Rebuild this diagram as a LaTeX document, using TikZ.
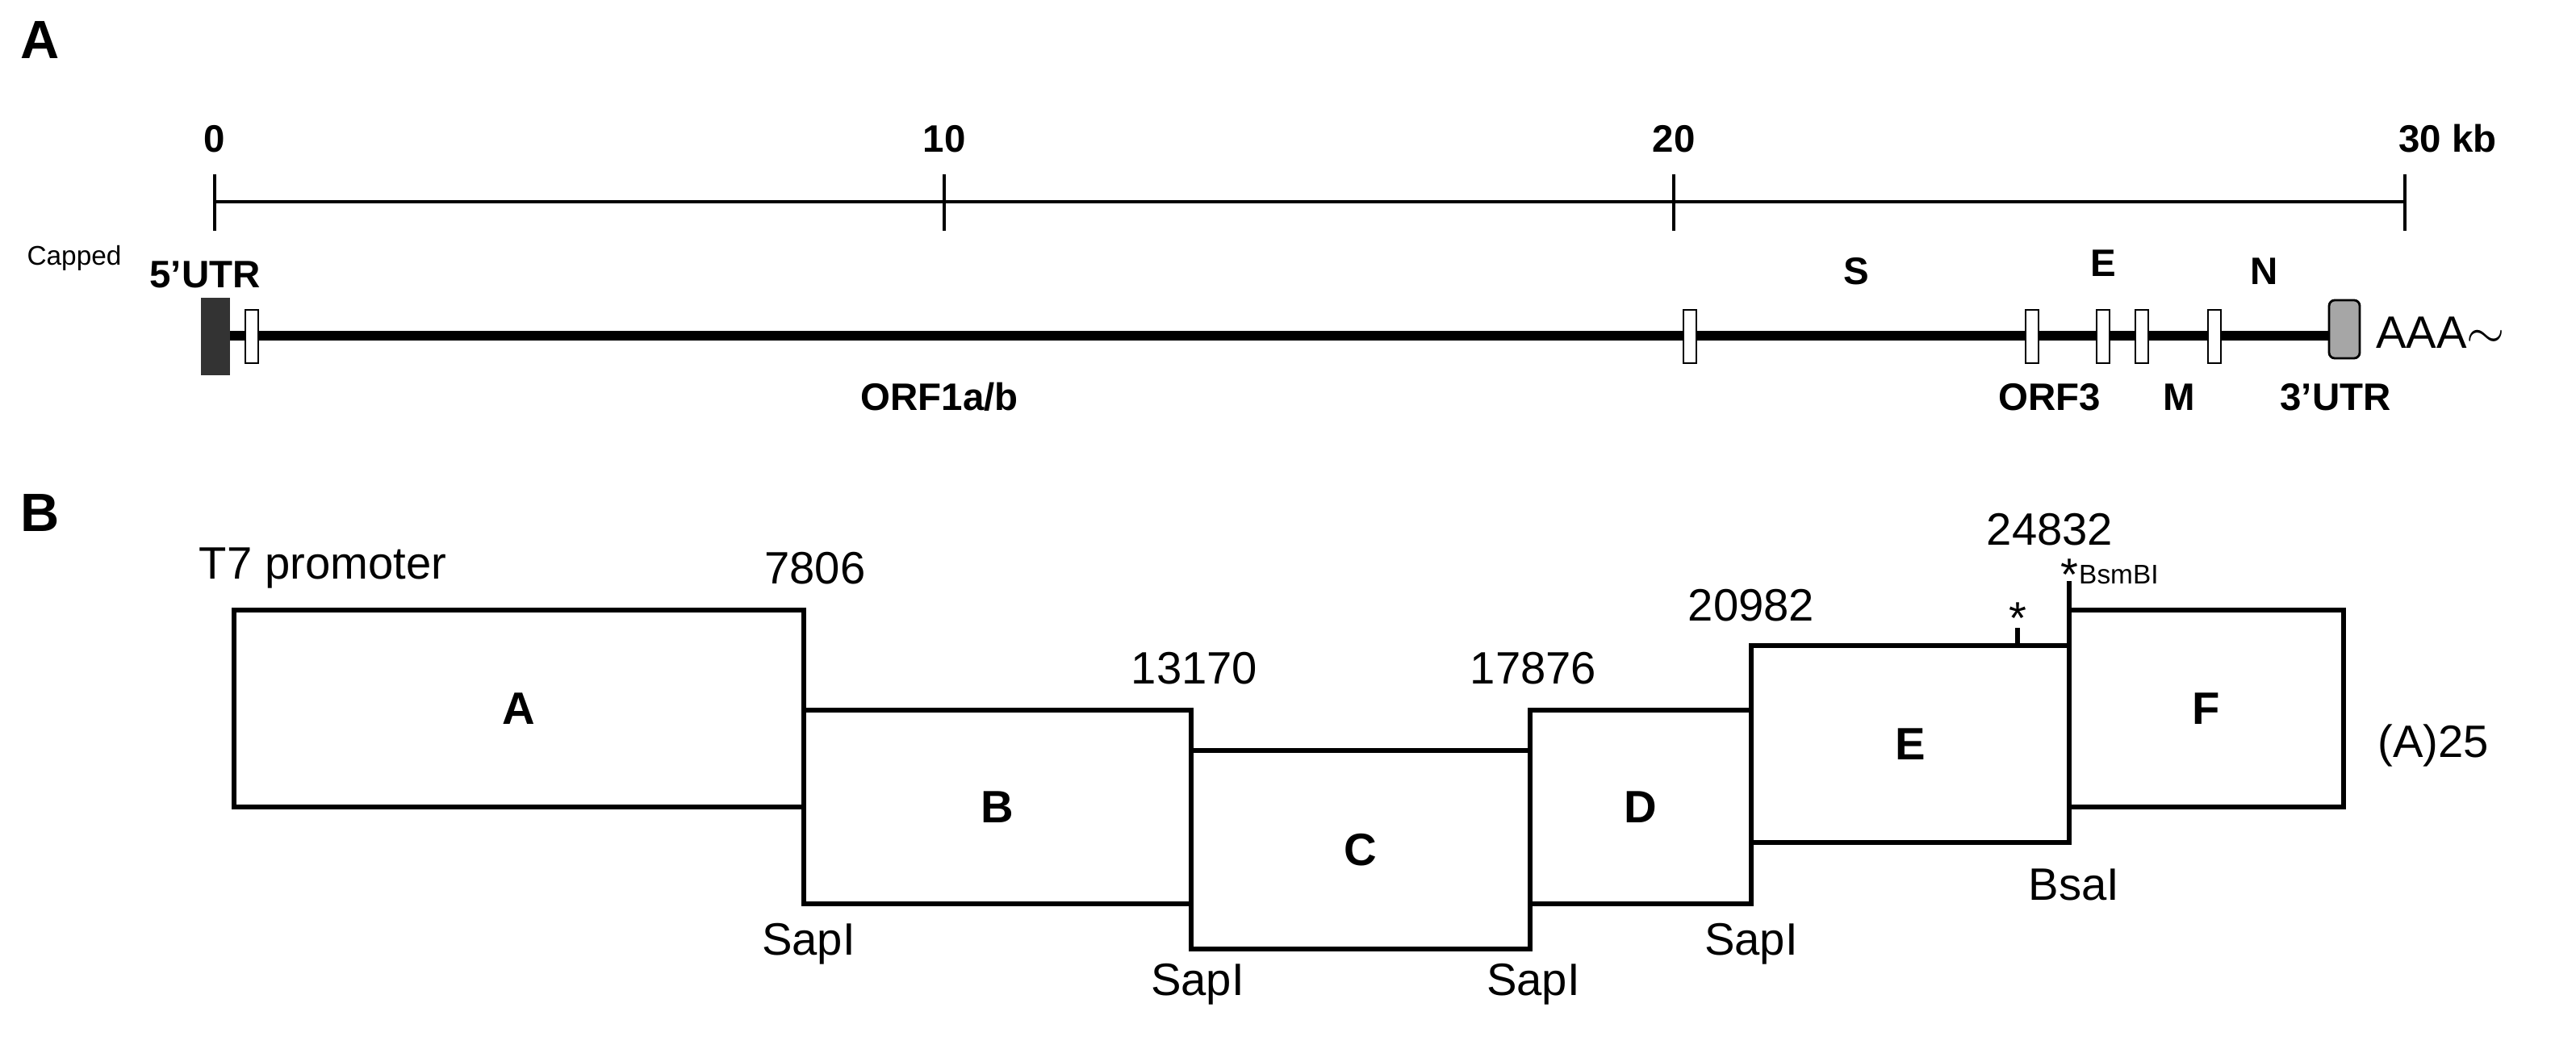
\documentclass[tikz,border=0pt]{standalone}
\usepackage{fontspec}
\setmainfont{Liberation Sans}
\usetikzlibrary{positioning,calc}
\tikzset{
  panel/.style={font=\fontsize{19}{19}\selectfont\bfseries},
  kb/.style={font=\fontsize{13.5}{14}\selectfont\bfseries},
  orf/.style={draw=black,fill=white,line width=0.8pt},
  frag/.style={draw=black,line width=1.7pt,fill=white},
  fragname/.style={font=\fontsize{16}{16}\selectfont\bfseries},
  numlab/.style={font=\fontsize{16}{16}\selectfont},
  tiny/.style={font=\fontsize{9.5}{10}\selectfont}
}
\begin{document}
\begin{tikzpicture}[x=0.02cm,y=-0.02cm]
  \useasboundingbox (0,0) rectangle (1596,645);
  % panel A
  \node[panel] (pA) at (25,25) {A};
  \draw[line width=1.1pt] (133,125) -- (1490,125);
  \foreach \t/\x in {0/133,10/585,20/1037}
    {\draw[line width=1.1pt] (\x,108) -- (\x,143);
     \node[kb] (t\t) at (\x,86) {\t};}
  \draw[line width=1.1pt] (1490,108) -- (1490,143);
  \node[kb,anchor=west] (t30) at (1480,86) {30 kb};
  % genome
  \draw[line width=3.4pt] (140,208) -- (1445,208);
  \draw[fill=black!80,draw=black!80] (125,185) rectangle (142,232);
  \foreach \x in {156,1047,1259,1303,1327,1372}
    \draw[orf] (\x-4,192) rectangle (\x+4,225);
  \draw[fill=black!35,draw=black,line width=0.8pt,rounded corners=2pt] (1443,186) rectangle (1462,222);
  \node[numlab,anchor=west] (polyA) at (1466,206) {AAA$\sim$};
  \node[tiny] (cap) at (46,160) {Capped};
  \node[kb] (utr5) at (127,170) {5’UTR};
  \node[kb] (S) at (1150,168) {S};
  \node[kb] (E) at (1303,163) {E};
  \node[kb] (N) at (1403,168) {N};
  \node[kb] (orf1) at (582,246) {ORF1a/b};
  \node[kb] (orf3) at (1270,246) {ORF3};
  \node[kb] (M) at (1350,246) {M};
  \node[kb] (utr3) at (1447,246) {3’UTR};
  % panel B
  \node[panel] (pB) at (25,318) {B};
  \foreach \n/\xa/\ya/\xb/\yb in {A/145/378/498/500,B/498/440/738/560,C/738/465/948/588,
                                 D/948/440/1085/560,E/1085/400/1282/522,F/1282/378/1452/500}
    {\draw[frag] (\xa,\ya) rectangle (\xb,\yb);
     \node[fragname] (f\n) at ({(\xa+\xb)/2},{(\ya+\yb)/2}) {\n};}
  \node[numlab] (t7) at (200,352) {T7 promoter};
  \node[numlab] (p1) at (505,352) {7806};
  \node[numlab] (p2) at (740,414) {13170};
  \node[numlab] (p3) at (950,414) {17876};
  \node[numlab] (p4) at (1085,375) {20982};
  \node[numlab] (p5) at (1270,328) {24832};
  \node[numlab] (s1) at (501,585) {SapI};
  \node[numlab] (s2) at (742,610) {SapI};
  \node[numlab] (s3) at (950,610) {SapI};
  \node[numlab] (s4) at (1085,585) {SapI};
  \node[numlab] (b1) at (1285,548) {BsaI};
  \node[numlab,anchor=west] (a25) at (1467,462) {(A)25};
  % restriction marks
  \draw[line width=1.5pt] (1250,400) -- (1250,389);
  \node[numlab,inner sep=0pt] (st1) at (1250,383) {*};
  \draw[line width=1.5pt] (1282,378) -- (1282,360);
  \node[numlab,inner sep=0pt] (st2) at (1282,356) {*};
  \node[tiny,anchor=west,inner sep=1pt] (bsmb) at (1286,356) {BsmBI};
\end{tikzpicture}
\end{document}
